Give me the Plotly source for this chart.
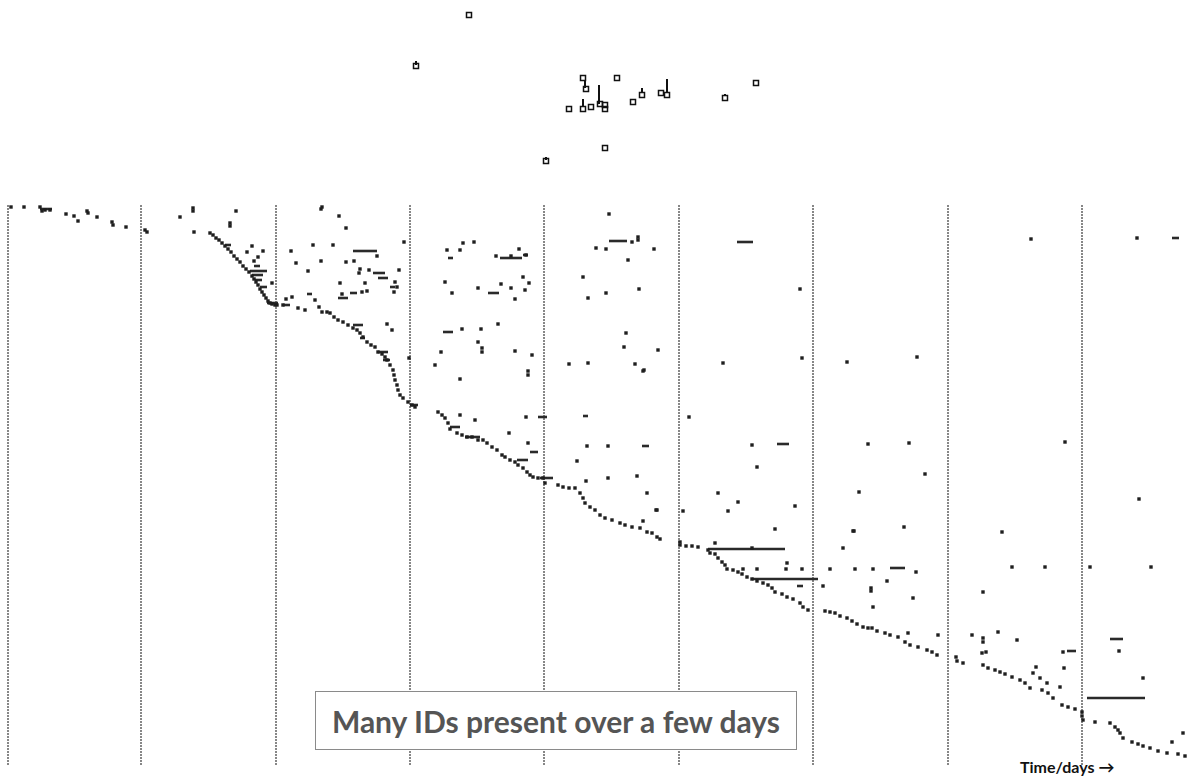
import plotly.graph_objects as go

# ---------------- data (time in scan units, ID rank in scan units) ----------------
DAY_BOUNDARIES = [8, 141, 276, 410, 544, 679, 813, 948, 1082]
ID_RANGE = [205, 765]

# first sightings (the descending "staircase")
FIRST_T = [11, 24, 40, 42, 45, 50, 66, 74, 78, 87, 88, 97, 112, 113, 126, 145, 147,
           210, 213, 216, 219, 222, 225, 228, 231, 234, 237, 240, 243, 246, 249, 252, 254, 256,
           258, 260, 262, 264, 266, 268, 270, 272, 275, 277,
           283, 286, 292, 298, 305, 315, 319, 322, 327,
           330, 334, 338, 343, 348, 353, 357, 360, 363, 367, 371, 375, 378, 382, 385, 387, 390,
           393, 394, 395, 397, 398, 400, 403, 408, 412, 415,
           438, 442, 445, 448, 450, 457, 462, 467, 472, 478, 483, 487, 492, 497, 502, 505, 510,
           515, 518, 523, 527, 530, 533, 538, 543, 545,
           558, 563, 569, 575, 580, 583, 585, 590, 595, 600, 605, 612, 620, 625, 632, 640, 647,
           652, 657, 660, 680, 680,
           686, 692, 698, 708, 710, 715, 718, 722, 725, 727, 733, 738, 742, 747, 752, 757, 763,
           768, 772, 775, 782, 787, 793, 800, 803, 808,
           825, 830, 835, 840, 847, 852, 857, 863, 868, 872, 877, 885, 890, 898, 905, 910, 918,
           927, 932, 937,
           956, 957, 963, 983, 988, 995, 1000, 1005, 1012, 1020, 1025, 1030, 1042, 1048, 1053,
           1062, 1068, 1075, 1082, 1082, 1083,
           1095, 1110, 1115, 1118, 1120, 1123, 1132, 1138, 1143, 1150, 1158, 1167, 1178, 1185]
FIRST_ID = [207, 207, 207, 211, 210, 210, 214, 216, 221, 211, 213, 217, 222, 225, 227, 230, 232,
            233, 235, 238, 240, 243, 246, 249, 252, 256, 259, 262, 266, 269, 272, 276, 279, 282,
            285, 289, 292, 295, 298, 301, 303, 304, 305, 305,
            305, 299, 297, 308, 310, 300, 307, 312, 312,
            313, 317, 320, 322, 325, 328, 330, 333, 337, 342, 345, 347, 352, 354, 357, 360, 365,
            370, 375, 380, 385, 390, 395, 398, 402, 405, 407,
            412, 415, 418, 423, 429, 433, 435, 437, 437, 440, 440, 443, 447, 450, 455, 457, 460,
            462, 465, 468, 472, 475, 477, 478, 478, 483,
            485, 487, 488, 488, 493, 498, 503, 507, 510, 515, 518, 520, 523, 525, 527, 528, 532,
            533, 537, 539, 542, 545,
            546, 546, 547, 550, 553, 554, 558, 562, 565, 569, 570, 572, 574, 577, 579, 581, 583,
            585, 588, 592, 594, 597, 599, 603, 607, 610,
            611, 612, 613, 616, 618, 621, 624, 627, 628, 628, 631, 633, 635, 637, 642, 645, 647,
            650, 652, 655,
            657, 661, 663, 665, 668, 670, 672, 674, 677, 680, 683, 688, 690, 693, 698,
            705, 707, 709, 712, 716, 720,
            722, 723, 727, 730, 733, 738, 742, 744, 746, 748, 751, 753, 754, 756]

# later re-sightings of IDs
SEEN_T = [180, 193, 193, 194, 236, 230, 230, 252, 247, 263, 258, 254, 272,
          313, 291, 296, 308, 321, 321, 322, 339, 346, 333, 377, 354, 346, 360, 359, 369, 399,
          404, 340, 365, 395, 394, 342, 362, 367, 387, 392, 409, 397,
          447, 460, 463, 474, 496, 511, 519, 526, 445, 452, 478, 501, 511, 515, 523, 529, 525,
          462, 481, 498, 478, 482, 482, 441, 515, 532, 435, 460, 528, 528, 460, 475, 526, 509, 528,
          609, 632, 638, 638, 596, 606, 654, 628, 583, 588, 606, 639, 626, 624, 658, 569, 588,
          635, 644, 643, 587, 608, 577, 586, 608, 637, 647, 656, 643, 657,
          800, 723, 802, 752, 757, 683, 718, 738, 728, 795, 775, 715, 752, 743, 757, 786, 787,
          802, 689,
          847, 917, 868, 909, 925, 859, 853, 904, 843, 854, 823, 830, 855, 873, 887, 871, 871,
          873, 913, 916, 908, 938,
          1031, 1065, 1002, 1012, 1045, 983, 972, 983, 983, 998, 1017, 982, 986, 1063, 1036,
          1033, 1040, 1047, 1060, 1064,
          1137, 1090, 1139, 1151, 1119, 1143, 1172, 1183]
SEEN_ID = [217, 208, 211, 232, 211, 223, 226, 246, 252, 251, 257, 261, 283,
           245, 251, 263, 271, 261, 209, 207, 216, 228, 245, 256, 261, 262, 269, 273, 270, 270,
           242, 283, 283, 282, 292, 294, 292, 291, 324, 330, 358, 287,
           250, 250, 243, 242, 256, 256, 249, 255, 282, 293, 288, 284, 288, 299, 277, 283, 290,
           329, 329, 324, 342, 348, 352, 352, 351, 355, 365, 379, 371, 375, 415, 420, 417, 433, 443,
           214, 242, 237, 240, 248, 249, 249, 260, 277, 298, 293, 289, 333, 347, 350, 364, 363,
           364, 370, 371, 446, 446, 461, 481, 478, 476, 493, 510, 521, 510,
           289, 363, 358, 445, 467, 511, 493, 502, 511, 506, 529, 543, 548, 569, 569, 569, 563,
           569, 417,
           362, 357, 444, 443, 474, 492, 531, 527, 548, 531, 586, 569, 569, 569, 581, 588, 591,
           607, 598, 572, 633, 635,
           239, 442, 532, 567, 567, 592, 635, 638, 642, 632, 640, 653, 652, 652, 667,
           673, 678, 683, 687, 668,
           238, 567, 499, 567, 651, 678, 742, 733]

# IDs present continuously over a span (start time, end time, ID)
SPAN_START = [40, 250, 252, 255, 260, 225, 267, 254, 353, 373, 378, 390, 307, 338, 350, 353, 360,
              378, 383, 283, 410, 450, 465, 517, 540, 448, 500, 523, 488, 443, 530, 538,
              609, 642, 583, 737, 777, 708, 752, 797, 890, 1067, 1172, 1110, 1087]
SPAN_END = [52, 267, 263, 262, 267, 231, 278, 260, 377, 385, 388, 395, 312, 348, 357, 363, 365,
            388, 390, 290, 418, 460, 480, 528, 553, 453, 522, 528, 499, 453, 538, 547,
            627, 649, 588, 753, 789, 785, 818, 803, 905, 1076, 1179, 1123, 1145]
SPAN_ID = [209, 271, 275, 280, 287, 245, 303, 266, 251, 273, 278, 287, 294, 298, 293, 325, 338,
           352, 360, 305, 405, 427, 437, 460, 478, 258, 258, 255, 293, 332, 452, 417,
           241, 446, 416, 242, 444, 549, 579, 586, 568, 651, 238, 639, 698]

# upper inset: sparse sightings (open squares) with short stems
TOP_T = [469, 416, 583, 586, 617, 569, 583, 591, 600, 605, 605, 633, 642, 661, 667, 725, 756, 605, 546]
TOP_ID = [15, 66, 78, 89, 78, 109, 109, 107, 104, 105, 109, 102, 95, 93, 95, 98, 83, 148, 161]
STEM_T = [416, 585, 599, 583, 642, 667, 725, 546]
STEM_FROM = [61, 80, 85, 99, 88, 79, 94, 157]
STEM_TO = [65, 88, 104, 106, 93, 93, 96, 160]

TITLE_NOTE = "Many IDs present over a few days"
AXIS_NOTE = "Time/days \u2192"

# ---------------- figure ----------------
fig = go.Figure()

# day boundaries (densely dotted vertical lines)
vx, vy = [], []
for b in DAY_BOUNDARIES:
    vx += [b, b, None]
    vy += [ID_RANGE[0], ID_RANGE[1], None]
fig.add_trace(go.Scatter(x=vx, y=vy, mode="lines",
                         line=dict(color="#555555", width=1.4, dash="2px,1px"),
                         hoverinfo="skip", showlegend=False))

# spans
sx, sy = [], []
for a, b, i in zip(SPAN_START, SPAN_END, SPAN_ID):
    sx += [a, b, None]
    sy += [i, i, None]
fig.add_trace(go.Scatter(x=sx, y=sy, mode="lines",
                         line=dict(color="#2a2a2a", width=2.6),
                         hoverinfo="skip", showlegend=False))

fig.add_trace(go.Scatter(x=FIRST_T, y=FIRST_ID, mode="markers",
                         marker=dict(symbol="square", size=3.4, color="#1e1e1e"),
                         showlegend=False))
fig.add_trace(go.Scatter(x=SEEN_T, y=SEEN_ID, mode="markers",
                         marker=dict(symbol="square", size=3.4, color="#1e1e1e"),
                         showlegend=False))

# upper inset
tx, ty = [], []
for t, a, b in zip(STEM_T, STEM_FROM, STEM_TO):
    tx += [t, t, None]
    ty += [a, b, None]
fig.add_trace(go.Scatter(x=tx, y=ty, mode="lines",
                         line=dict(color="#111", width=2),
                         hoverinfo="skip", showlegend=False))
fig.add_trace(go.Scatter(x=TOP_T, y=TOP_ID, mode="markers",
                         marker=dict(symbol="square-open", size=5, color="#111",
                                     line=dict(width=1.5, color="#111")),
                         showlegend=False))

fig.add_annotation(x=556, y=720, xref="x", yref="y", text=TITLE_NOTE, showarrow=False,
                   font=dict(family="Lato", size=30, color="#555555", weight="bold"),
                   bgcolor="white", bordercolor="#8a8a8a", borderwidth=1,
                   width=478, height=55, borderpad=1)
fig.add_annotation(x=1067, y=766, xref="x", yref="y", text=AXIS_NOTE, showarrow=False,
                   font=dict(family="Lato", size=16, color="#111", weight="bold"))

fig.update_layout(
    width=1196, height=784,
    margin=dict(l=0, r=0, t=0, b=0),
    paper_bgcolor="white", plot_bgcolor="white",
    xaxis=dict(range=[0, 1196], visible=False, fixedrange=True),
    yaxis=dict(range=[784, 0], visible=False, fixedrange=True),
)

fig.write_html("out.html")
